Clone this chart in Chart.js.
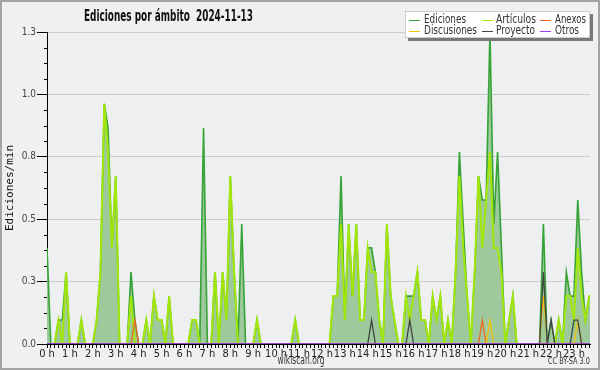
<!DOCTYPE html>
<html><head><meta charset="utf-8">
<script src="https://cdn.jsdelivr.net/npm/chart.js@4.4.1/dist/chart.umd.min.js"></script>
<style>html,body{margin:0;padding:0;background:#f0f0f0}canvas{display:block}</style>
</head><body>
<canvas id="c" width="600" height="370"></canvas>
<script>
const FONT = '"Liberation Sans Narrow", "DejaVu Sans Condensed", "Liberation Sans", "DejaVu Sans", sans-serif';
const titleText = 'Ediciones por ámbito  2024-11-13';
const yAxisTitle = 'Ediciones/min';
const sourceText = 'wikiscan.org';
const licenseText = 'CC BY-SA 3.0';
const hourTicks = ['0 h','1 h','2 h','3 h','4 h','5 h','6 h','7 h','8 h','9 h','10 h','11 h',
  '12 h','13 h','14 h','15 h','16 h','17 h','18 h','19 h','20 h','21 h','22 h','23 h'];
const yTicks = [0, 0.25, 0.5, 0.75, 1, 1.25];
const seriesNames = ['Ediciones','Artículos','Anexos','Discusiones','Proyecto','Otros'];
const seriesColors = ['#35a335','#a2e60a','#ec6a1f','#f2c40c','#444444','#9a3de6'];

// 10-minute bins, 00:00 .. 23:50 (one row = 2 hours)
const ediciones = [
  0.385,0,0,0.096,0.096,0.288,0,0,0,0.096,0,0,
  0,0.096,0.288,0.962,0.865,0.385,0.673,0,0,0,0.288,0.096,
  0,0,0.096,0,0.192,0.096,0.096,0,0.192,0,0,0,
  0,0,0.096,0.096,0,0.865,0,0,0.288,0,0.288,0.096,
  0.673,0.288,0,0.481,0,0,0,0.096,0,0,0,0,
  0,0,0,0,0,0.096,0,0,0,0,0,0,
  0,0,0,0.192,0.192,0.673,0.096,0.481,0.192,0.481,0.096,0.096,
  0.385,0.385,0.288,0.096,0,0.481,0.192,0.096,0,0,0.192,0.192,
  0.192,0.288,0.096,0.096,0,0.192,0.096,0.192,0,0.096,0,0.288,
  0.769,0.481,0.192,0,0.288,0.673,0.577,0.577,1.25,0.481,0.769,0.385,
  0,0.096,0.192,0,0,0,0,0,0,0,0.481,0,
  0.096,0,0.096,0,0.288,0.192,0.192,0.577,0.288,0.096,0.192,0.192
];
const articulos = [
  0,0,0,0.096,0,0.288,0,0,0,0.096,0,0,
  0,0.096,0.288,0.962,0.769,0.385,0.673,0,0,0,0.192,0,
  0,0,0.096,0,0.192,0.096,0.096,0,0.192,0,0,0,
  0,0,0.096,0.096,0,0,0,0,0.288,0,0.288,0.096,
  0.673,0.288,0,0,0,0,0,0.096,0,0,0,0,
  0,0,0,0,0,0.096,0,0,0,0,0,0,
  0,0,0,0.192,0.192,0.481,0.096,0.481,0.192,0.481,0.096,0.096,
  0.385,0.288,0.288,0.096,0,0.481,0.192,0.096,0,0,0.192,0.096,
  0.192,0.288,0.096,0.096,0,0.192,0.096,0.192,0,0.096,0,0.288,
  0.673,0.385,0.192,0,0.288,0.673,0.385,0.577,0.769,0.385,0.385,0.288,
  0,0.096,0.192,0,0,0,0,0,0,0,0,0,
  0,0,0.096,0,0.192,0.192,0.096,0.385,0.192,0.096,0.192,0.192
];
const anexos = [
  0,0,0,0,0,0,0,0,0,0,0,0,
  0,0,0,0,0,0,0,0,0,0,0,0.096,
  0,0,0,0,0,0,0,0,0,0,0,0,
  0,0,0,0,0,0,0,0,0,0,0,0,
  0,0,0,0,0,0,0,0,0,0,0,0,
  0,0,0,0,0,0,0,0,0,0,0,0,
  0,0,0,0,0,0,0,0,0,0,0,0,
  0,0,0,0,0,0,0,0,0,0,0,0,
  0,0,0,0,0,0,0,0,0,0,0,0,
  0,0,0,0,0,0,0.096,0,0,0,0,0,
  0,0,0,0,0,0,0,0,0,0,0,0,
  0,0,0,0,0,0,0,0,0,0,0,0
];
const discusiones = [
  0,0,0,0,0,0,0,0,0,0,0,0,
  0,0,0,0,0,0,0,0,0,0,0,0,
  0,0,0,0,0,0,0,0,0,0,0,0,
  0,0,0,0,0,0,0,0,0,0,0,0,
  0,0,0,0,0,0,0,0,0,0,0,0,
  0,0,0,0,0,0,0,0,0,0,0,0,
  0,0,0,0,0,0,0,0,0,0,0,0,
  0,0,0,0,0,0,0,0,0,0,0,0,
  0,0,0,0,0,0,0,0,0,0,0,0,
  0,0,0,0,0,0,0,0,0.096,0,0,0,
  0,0,0,0,0,0,0,0,0,0,0.192,0,
  0,0,0,0,0,0,0,0.096,0,0,0,0
];
const proyecto = [
  0,0,0,0,0,0,0,0,0,0,0,0,
  0,0,0,0,0,0,0,0,0,0,0,0,
  0,0,0,0,0,0,0,0,0,0,0,0,
  0,0,0,0,0,0,0,0,0,0,0,0,
  0,0,0,0,0,0,0,0,0,0,0,0,
  0,0,0,0,0,0,0,0,0,0,0,0,
  0,0,0,0,0,0,0,0,0,0,0,0,
  0,0.096,0,0,0,0,0,0,0,0,0,0.096,
  0,0,0,0,0,0,0,0,0,0,0,0,
  0,0,0,0,0,0,0,0,0,0,0,0,
  0,0,0,0,0,0,0,0,0,0,0.288,0,
  0.096,0,0,0,0,0,0.096,0.096,0,0,0,0
];
const otros = [
  0,0,0,0,0,0,0,0,0,0,0,0,
  0,0,0,0,0,0,0,0,0,0,0,0,
  0,0,0,0,0,0,0,0,0,0,0,0,
  0,0,0,0,0,0,0,0,0,0,0,0,
  0,0,0,0,0,0,0,0,0,0,0,0,
  0,0,0,0,0,0,0,0,0,0,0,0,
  0,0,0,0,0,0,0,0,0,0,0,0,
  0,0,0,0,0,0,0,0,0,0,0,0,
  0,0,0,0,0,0,0,0,0,0,0,0,
  0,0,0,0,0,0,0,0,0,0,0,0,
  0,0,0,0,0,0,0,0,0,0,0,0,
  0,0,0,0,0,0,0,0,0,0,0,0
];
const seriesValues = [ediciones, articulos, anexos, discusiones, proyecto, otros];
const binsPerHour = 6;

const pts = arr => arr.map((v, i) => ({x: i, y: v}));

function fitText(ctx, text, x, y, font, color, targetW, align) {
  ctx.save();
  ctx.font = font;
  ctx.fillStyle = color;
  ctx.textBaseline = 'middle';
  ctx.textAlign = 'left';
  const w = ctx.measureText(text).width;
  const s = targetW ? targetW / w : 1;
  const W = w * s;
  let x0 = x;
  if (align === 'center') x0 = x - W / 2;
  else if (align === 'right') x0 = x - W;
  ctx.translate(x0, y);
  ctx.scale(s, 1);
  ctx.fillText(text, 0, 0);
  ctx.restore();
}

const decor = {
  id: 'decor',
  beforeDraw(chart) {
    const {ctx, chartArea: a} = chart;
    ctx.save();
    ctx.fillStyle = '#f0f0f0';
    ctx.fillRect(0, 0, chart.width, chart.height);
    ctx.fillStyle = '#edeff1';
    ctx.fillRect(a.left, a.top, a.right - a.left, a.bottom - a.top);
    ctx.restore();
  },
  afterDraw(chart) {
    const {ctx, chartArea: a} = chart;
    const ys = chart.scales.y;
    ctx.save();
    // minor y ticks
    ctx.strokeStyle = '#000';
    ctx.lineWidth = 1;
    for (let k = 0; k <= 20; k++) {
      if (k % 4 === 0) continue;
      const yy = Math.round(ys.getPixelForValue(k * 0.0625)) + 0.5;
      ctx.beginPath();
      ctx.moveTo(a.left - 3, yy);
      ctx.lineTo(a.left, yy);
      ctx.stroke();
    }
    // outer frame
    ctx.strokeStyle = '#a4a4a4';
    ctx.lineWidth = 2;
    ctx.strokeRect(1, 1, chart.width - 2, chart.height - 2);
    ctx.lineWidth = 1;
    // title
    fitText(ctx, titleText, 84, 17, 'bold 15px ' + FONT, '#111', 169, 'left');
    // footer
    fitText(ctx, sourceText, 301, 361, '12px ' + FONT, '#333', 47, 'center');
    fitText(ctx, licenseText, 590, 362, '8px ' + FONT, '#333', 42, 'right');
    // legend
    const bx = 405, by = 11, bw = 185, bh = 27;
    ctx.fillStyle = '#777777';
    ctx.fillRect(bx + 3, by + 3, bw, bh);
    ctx.fillStyle = '#ffffff';
    ctx.fillRect(bx, by, bw, bh);
    ctx.strokeStyle = '#cccccc';
    ctx.strokeRect(bx + 0.5, by + 0.5, bw - 1, bh - 1);
    const cols = [{lx: 409, tx: 424}, {lx: 482, tx: 496}, {lx: 540, tx: 555}];
    const rows = [19.5, 30.5];
    const widths = [42, 40, 31, 53, 39, 24];
    chart.data.datasets.forEach((ds, i) => {
      const c = cols[i % 3], r = rows[Math.floor(i / 3)];
      ctx.strokeStyle = ds.borderColor;
      ctx.lineWidth = 1;
      ctx.beginPath();
      ctx.moveTo(c.lx, Math.round(r) + 0.5);
      ctx.lineTo(c.lx + 11, Math.round(r) + 0.5);
      ctx.stroke();
      fitText(ctx, ds.label, c.tx, r, '12px ' + FONT, '#333', widths[i], 'left');
    });
    ctx.restore();
  }
};

const datasets = seriesNames.map((name, i) => ({
  label: name,
  data: pts(seriesValues[i]),
  borderColor: seriesColors[i],
  backgroundColor: i === 0 ? '#9ec99c' : seriesColors[i],
  fill: i === 0 ? 'origin' : false,
  borderWidth: i === 0 ? 1.6 : (i === 1 ? 2 : 1.3),
  pointRadius: 0,
  tension: 0,
  order: 6 - i
}));

new Chart(document.getElementById('c'), {
  type: 'line',
  data: { datasets },
  options: {
    responsive: false,
    animation: false,
    devicePixelRatio: 1,
    layout: { padding: { top: 32, right: 10, bottom: 0, left: 0 } },
    plugins: { legend: { display: false }, tooltip: { enabled: false }, title: { display: false } },
    scales: {
      x: {
        type: 'linear', min: 0, max: 142.2, offset: false, z: 1,
        grid: { display: true, drawOnChartArea: false, drawTicks: true, tickLength: 4, tickColor: '#000', tickWidth: 1 },
        border: { display: true, color: '#000', width: 1 },
        ticks: {
          stepSize: 1, autoSkip: false, maxRotation: 0, minRotation: 0, includeBounds: false,
          padding: 0, color: '#222', font: { size: 11, family: FONT },
          callback: v => (v % binsPerHour === 0 ? hourTicks[v / binsPerHour] : '')
        },
        afterFit: s => { s.height = 26; }
      },
      y: {
        min: 0, max: 1.25,
        grid: { color: '#cccccc', lineWidth: 1, drawTicks: true, tickLength: 10, tickColor: '#000' },
        border: { display: true, color: '#000', width: 1 },
        afterBuildTicks: s => { s.ticks = yTicks.map(v => ({value: v})); },
        ticks: { padding: 1, color: '#444', font: { size: 10, family: FONT }, callback: v => v.toFixed(1) },
        title: { display: true, text: yAxisTitle, color: '#111', padding: { top: 4, bottom: 0 }, font: { family: '"DejaVu Sans Mono", monospace', size: 11 } },
        afterFit: s => { s.width = 47; }
      }
    }
  },
  plugins: [decor]
});
</script>
</body></html>
